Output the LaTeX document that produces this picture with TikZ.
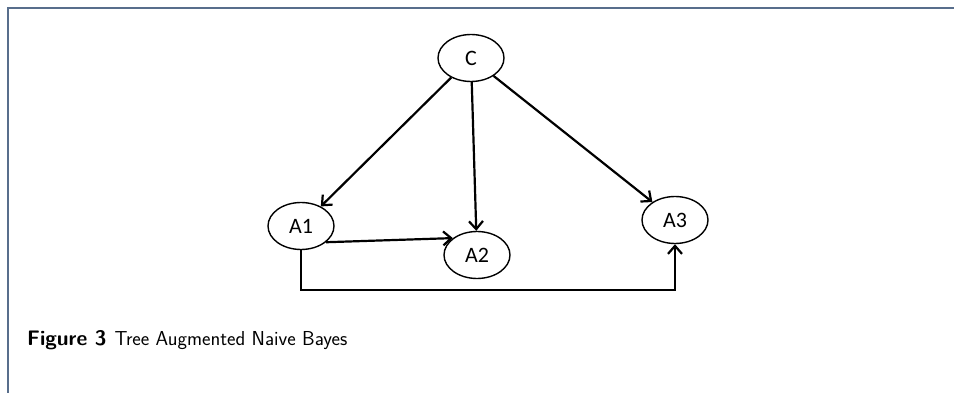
\documentclass[tikz,border=0pt]{standalone}
\usepackage{fontspec}
\newfontfamily\nodefont{Carlito}
\usetikzlibrary{arrows.meta,shapes.geometric}
\definecolor{framegray}{RGB}{88,110,140}
\tikzset{
  var/.style={draw, ellipse, line width=1.4pt, inner sep=0pt,
    minimum width=66pt, minimum height=47pt, font=\nodefont\fontsize{22}{26}\selectfont},
  edge/.style={draw, line width=2.2pt, -{Straight Barb[length=8pt,width=14pt,line width=2.2pt]}}
}
\begin{document}
\begin{tikzpicture}[x=1pt,y=-1pt]
\useasboundingbox (0,0) rectangle (954,393);
\draw[framegray,line width=2pt] (8,393) -- (8,8) -- (954,8);

\node[var] (C) at (471,58) {C};
\node[var] (A1) at (301,226) {A1};
\node[var] (A2) at (477,255) {A2};
\node[var] (A3) at (675,220) {A3};

\path[edge] (C) -- (A1);
\path[edge] (C) -- (A2);
\path[edge] (C) -- (A3);
\path[edge] (A1.-33) -- (A2.145);
\path[edge] (A1.south) -- ++(0,40) -| (A3.south);

\node[anchor=base west, inner sep=0pt, font=\sffamily\fontsize{20.2}{24}\selectfont] (caption) at (27,345)
  {{\fontsize{21}{25}\selectfont\bfseries Figure 3}\hspace{0.4em}Tree Augmented Naive Bayes};
\end{tikzpicture}
\end{document}
